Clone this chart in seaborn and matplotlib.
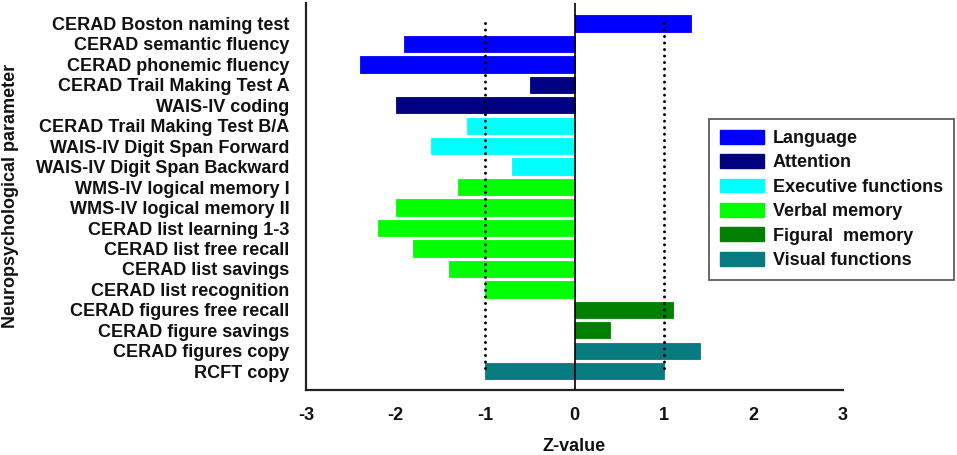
import matplotlib
matplotlib.use("Agg")
import matplotlib.pyplot as plt
from matplotlib.patches import Patch
import seaborn as sns
import pandas as pd

tests = [
    "CERAD Boston naming test",
    "CERAD semantic fluency",
    "CERAD phonemic fluency",
    "CERAD Trail Making Test A",
    "WAIS-IV coding",
    "CERAD Trail Making Test B/A",
    "WAIS-IV Digit Span Forward",
    "WAIS-IV Digit Span Backward",
    "WMS-IV logical memory I",
    "WMS-IV logical memory II",
    "CERAD list learning 1-3",
    "CERAD list free recall",
    "CERAD list savings",
    "CERAD list recognition",
    "CERAD figures free recall",
    "CERAD figure savings",
    "CERAD figures copy",
    "RCFT copy",
]
z_values = [1.3, -1.9, -2.4, -0.5, -2.0, -1.2, -1.6, -0.7, -1.3, -2.0,
            -2.2, -1.8, -1.4, -1.0, 1.1, 0.4, 1.4, 1.0]
# lower end of bar (RCFT copy spans -1 to 1)
z_lower = [0, 0, 0, 0, 0, 0, 0, 0, 0, 0, 0, 0, 0, 0, 0, 0, 0, -1.0]
domains = ["Language"] * 3 + ["Attention"] * 2 + ["Executive functions"] * 3 + \
          ["Verbal memory"] * 6 + ["Figural  memory"] * 2 + ["Visual functions"] * 2
domain_names = ["Language", "Attention", "Executive functions",
                "Verbal memory", "Figural  memory", "Visual functions"]
domain_colors = ["#0000FF", "#000080", "#00FFFF", "#00FF00", "#007F00", "#077B7F"]
x_ticks = [-3, -2, -1, 0, 1, 2, 3]
ref_lines = [-1, 1]

df = pd.DataFrame({"test": tests, "z": z_values, "lower": z_lower, "domain": domains})
palette = dict(zip(domain_names, domain_colors))

sns.set_theme(style="white")
plt.rcParams["font.family"] = ["Liberation Sans", "DejaVu Sans"]
plt.rcParams["font.weight"] = "bold"

fig = plt.figure(figsize=(9.57, 4.55), dpi=100)
ax = fig.add_axes([306 / 957, 1 - 390 / 455, (843 - 306) / 957, (390 - 3) / 455])

sns.barplot(data=df, y="test", x="z", hue="domain", order=tests, hue_order=domain_names,
            palette=palette, dodge=False, orient="h", width=0.8, legend=False,
            linewidth=0.6, ax=ax, saturation=1)
sub = df[df["lower"] != 0]
sns.barplot(data=sub, y="test", x="lower", hue="domain", order=tests, hue_order=domain_names,
            palette=palette, dodge=False, orient="h", width=0.8, legend=False,
            linewidth=0.6, ax=ax, saturation=1)
for p in ax.patches:
    p.set_edgecolor(p.get_facecolor())

ax.axvline(0, color="black", lw=1.2, zorder=5)
vl = ax.vlines(ref_lines, ymin=0, ymax=len(tests) - 1, colors="black", lw=2.16,
               linestyles=(0, (0.01, 2.16)), zorder=6)
vl.set_capstyle("round")

ax.set_xlim(-3, 3)
ax.set_ylim(len(tests) - 1 + 0.92, -1)
ax.set_xticks(x_ticks)
ax.set_xticklabels([str(v) for v in x_ticks])
ax.set_xlabel("")
ax.set_ylabel("")
for s in ["top", "right"]:
    ax.spines[s].set_visible(False)
for s in ["left", "bottom"]:
    ax.spines[s].set_linewidth(1.6)
    ax.spines[s].set_color("#222222")
ax.tick_params(axis="both", which="major", direction="out", length=5, width=1.5,
               color="#222222", labelsize=13)
ax.tick_params(axis="y", pad=7)
ax.tick_params(axis="x", pad=7.5)
for lab in ax.get_xticklabels() + ax.get_yticklabels():
    lab.set_fontweight("bold")
    lab.set_color("#111111")

fig.text(574 / 957, 1 - 446.7 / 455, "Z-value", ha="center", va="center",
         fontsize=13, fontweight="bold", color="#111111")
fig.text(10.5 / 957, 1 - 196 / 455, "Neuropsychological parameter", ha="center",
         va="center", rotation=90, fontsize=13, fontweight="bold", color="#111111")

handles = [Patch(facecolor=c, edgecolor=c, label=n) for n, c in zip(domain_names, domain_colors)]
leg = fig.legend(handles=handles, loc="upper left",
                 bbox_to_anchor=(709 / 957, 1 - 119 / 455),
                 bbox_transform=fig.transFigure, frameon=True, fancybox=False,
                 prop={"size": 13, "weight": "bold"}, handlelength=2.45,
                 handleheight=0.8, handletextpad=0.48, labelspacing=0.4,
                 borderpad=0.6, borderaxespad=0)
leg.get_frame().set_edgecolor("#333333")
leg.get_frame().set_linewidth(1.3)
for t in leg.get_texts():
    t.set_color("#111111")

fig.savefig("out.png", dpi=100)
